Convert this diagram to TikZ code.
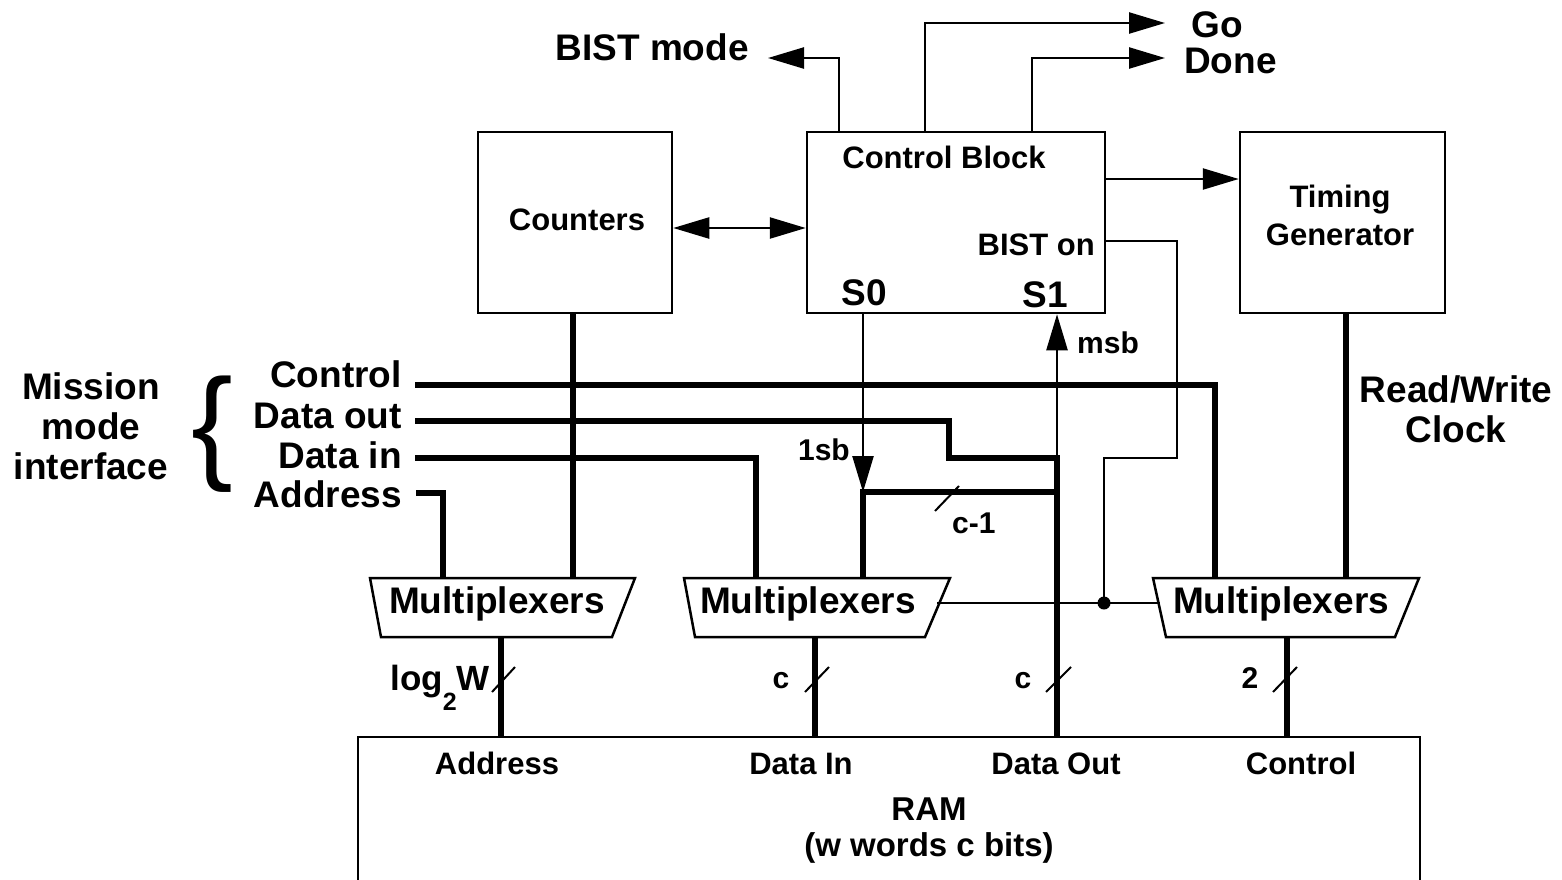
\documentclass[tikz,border=0pt]{standalone}
\usepackage{fontspec}
\setmainfont{Liberation Sans}
\usetikzlibrary{arrows.meta}
\begin{document}
\begin{tikzpicture}[x=1pt,y=-1pt,
  box/.style={draw,line width=2.5pt,inner sep=0pt},
  thinw/.style={line width=2.4pt},
  thickw/.style={line width=5.5pt},
  tipe/.style={-{Triangle[length=36pt,width=21pt]}},
  bothtip/.style={{Triangle[length=36pt,width=21pt]}-{Triangle[length=36pt,width=21pt]}},
  t31/.style={font=\fontsize{31}{38}\selectfont\bfseries,inner sep=0pt,anchor=base},
  t33/.style={font=\fontsize{33}{38}\selectfont\bfseries,inner sep=0pt,anchor=base},
  t30/.style={font=\fontsize{30}{36}\selectfont\bfseries,inner sep=0pt,anchor=base},
  t37/.style={font=\fontsize{37}{40}\selectfont\bfseries,inner sep=0pt,anchor=base},
  slash/.style={line width=2pt},
  muxbox/.style={line width=2.5pt},
]
\path[use as bounding box] (0,0) rectangle (1562,879);
\clip (0,0) rectangle (1562,879);

% ---------- boxes ----------
\node[box,minimum width=194pt,minimum height=181pt] (counters) at (575,222.5) {};
\node[box,minimum width=298pt,minimum height=181pt] (control) at (956,222.5) {};
\node[box,minimum width=205pt,minimum height=181pt] (timing) at (1342.5,222.5) {};
\node[box,minimum width=1062pt,minimum height=163pt] (ram) at (889,818.5) {};

% ---------- box texts ----------
\node[t31] (tcounters) at (577,230) {Counters};
\node[t31] (tcontrol) at (944,168) {Control Block};
\node[t31] (ttim1) at (1340,207) {Timing};
\node[t31] (ttim2) at (1340,245) {Generator};
\node[t31,anchor=base east] (tbiston) at (1095,255) {BIST on};
\node[t37] (ts0) at (864,305) {S0};
\node[t37] (ts1) at (1045,307) {S1};

% ---------- outputs at top ----------
\node[t37,anchor=base east] (tbist) at (749,60) {BIST mode};
\node[t37,anchor=base west] (tgo) at (1191,37) {Go};
\node[t37,anchor=base west] (tdone) at (1184,73) {Done};

\coordinate (bmc) at (839,58);  \coordinate (bmtip) at (768,58);
\coordinate (goc) at (925,23);  \coordinate (gotip) at (1165,23);
\coordinate (dnc) at (1032,58); \coordinate (dntip) at (1165,58);
\draw[thinw,tipe] (control.north -| bmc) -- (bmc) -- (bmtip);
\draw[thinw,tipe] (control.north -| goc) -- (goc) -- (gotip);
\draw[thinw,tipe] (control.north -| dnc) -- (dnc) -- (dntip);

\coordinate (cty) at (0,179);
\draw[thinw,tipe] (control.east |- cty) -- (timing.west |- cty);
\coordinate (ccy) at (0,228);
\draw[thinw,bothtip] (counters.east |- ccy) -- (control.west |- ccy);

% ---------- mission mode interface ----------
\node[t37] (lmis1) at (91,399) {Mission};
\node[t37] (lmis2) at (91,439) {mode};
\node[t37] (lmis3) at (91,479) {interface};
\node[font=\fontsize{125}{125}\selectfont,inner sep=0pt] (brace) at (212,434) {\{};

\node[t37,anchor=base east] (lctl) at (402,387) {Control};
\node[t37,anchor=base east] (ldo) at (402,428) {Data out};
\node[t37,anchor=base east] (ldi) at (402,468) {Data in};
\node[t37,anchor=base east] (lad) at (402,507) {Address};

\node[t37] (lrw1) at (1456,402) {Read/Write};
\node[t37] (lrw2) at (1456,442) {Clock};

% ---------- multiplexers ----------
\draw[muxbox] (370,578) -- (635,578) -- (612,637) -- (381,637) -- cycle;
\draw[muxbox] (684,578) -- (950,578) -- (925,637) -- (695,637) -- cycle;
\draw[muxbox] (1153,578) -- (1419,578) -- (1395,637) -- (1166,637) -- cycle;
\node[t37] (mux1) at (497,613) {Multiplexers};
\node[t37] (mux2) at (808,613) {Multiplexers};
\node[t37] (mux3) at (1281,613) {Multiplexers};

\coordinate (m1a) at (443,578); \coordinate (m1b) at (573,578);
\coordinate (m2a) at (756,578); \coordinate (m2b) at (863,578);
\coordinate (m3a) at (1215,578); \coordinate (m3b) at (1346,578);
\coordinate (m1o) at (501,637); \coordinate (m2o) at (815,637);
\coordinate (m3o) at (1287,637);
\coordinate (m2r) at (937,603); \coordinate (m3l) at (1159.5,603);

% ---------- mission wires ----------
\coordinate (wc) at (415,385);
\draw[thickw] (wc) -- (wc -| m3a) -- (m3a);
\coordinate (wdo) at (415,421); \coordinate (do1) at (949,421);
\coordinate (do2) at (949,458); \coordinate (do3) at (1057,458);
\draw[thickw] (wdo) -- (do1) -- (do2) -- (do3) -- (ram.north -| do3);
\coordinate (wdi) at (415,458);
\draw[thickw] (wdi) -- (wdi -| m2a) -- (m2a);
\coordinate (wad) at (416,493);
\draw[thickw] (wad) -- (wad -| m1a) -- (m1a);
\draw[thickw] (counters.south -| m1b) -- (m1b);
\draw[thickw] (timing.south -| m3b) -- (m3b);

% ---------- S0 / S1 ----------
\coordinate (s0t) at (863,492);
\draw[thinw,tipe] (control.south -| s0t) -- (s0t);
\draw[thickw] (s0t -| do3) -- (s0t) -- (m2b);
\draw[thinw,tipe] (do3) -- (control.south -| do3);

% ---------- BIST on ----------
\coordinate (bo1) at (1177,241); \coordinate (bo2) at (1177,458);
\coordinate (bo3) at (1104,458); \coordinate (bdot) at (1104,603);
\draw[thinw] (control.east |- bo1) -- (bo1) -- (bo2) -- (bo3) -- (bdot);
\draw[thinw] (m2r) -- (m3l);
\fill (bdot) circle (6.5);

% ---------- outputs to RAM ----------
\draw[thickw] (m1o) -- (ram.north -| m1o);
\draw[thickw] (m2o) -- (ram.north -| m2o);
\draw[thickw] (m3o) -- (ram.north -| m3o);

% ---------- bus slashes and widths ----------
\draw[slash] (492,692) -- (515,667);
\draw[slash] (805,692) -- (829,667);
\draw[slash] (1046,692) -- (1071,667);
\draw[slash] (1273,692) -- (1297,667);
\draw[slash] (935,511) -- (959,486);

\node[font=\fontsize{35}{38}\selectfont\bfseries,inner sep=0pt,anchor=base east] (llog) at (490,690) {log\raisebox{-20pt}{\fontsize{25}{25}\selectfont 2}W};
\node[t30] (lc1) at (781,688) {c};
\node[t30] (lc2) at (1023,688) {c};
\node[t30] (l2) at (1250,688) {2};
\node[t30,anchor=base west] (lcm1) at (952,533) {c-1};
\node[t30,anchor=base east] (llsb) at (850,460) {1sb};
\node[t30,anchor=base west] (lmsb) at (1077,353) {msb};

% ---------- RAM texts ----------
\node[t31] (ra) at (497,774) {Address};
\node[t31] (rdi) at (801,774) {Data In};
\node[t31] (rdo) at (1056,774) {Data Out};
\node[t31] (rc) at (1301,774) {Control};
\node[t33] (rram) at (929,820) {RAM};
\node[t33] (rwc) at (929,856) {(w words c bits)};
\end{tikzpicture}
\end{document}
